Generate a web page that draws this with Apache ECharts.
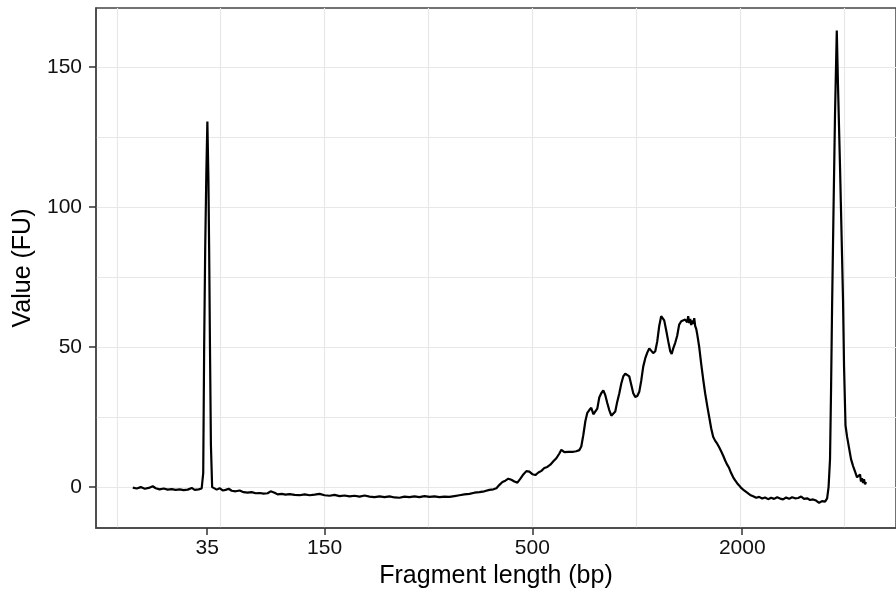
<!DOCTYPE html>
<html>
<head>
<meta charset="utf-8">
<script src="https://cdn.jsdelivr.net/npm/echarts@6/dist/echarts.min.js"></script>
<style>html,body{margin:0;padding:0;background:#fff}#c{width:896px;height:594px}</style>
</head>
<body>
<div id="c"></div>
<script>
// x: migration position (arbitrary run units), y: fluorescence (FU)
const xPos = [
41.54,41.92,42.31,42.69,43.08,43.46,43.75,44.13,44.52,44.90,45.29,45.67,46.06,46.44,46.83,47.21,47.50,47.88,48.17,
48.32,48.41,48.51,48.62,48.72,48.82,48.89,48.97,49.06,49.18,49.33,
49.62,49.90,50.19,50.48,50.77,51.06,51.44,51.83,52.21,52.60,52.98,53.37,53.75,54.13,54.52,54.81,55.00,55.19,55.48,55.87,56.25,56.63,
57.12,57.60,58.08,58.56,59.04,59.52,60.00,60.48,60.96,61.44,61.92,62.40,62.88,63.37,63.85,64.33,64.81,65.29,65.77,66.25,66.73,67.21,
67.69,68.17,68.65,69.13,69.62,70.10,70.58,71.06,71.54,72.02,72.50,72.98,73.46,73.94,74.42,74.90,75.38,75.87,76.25,76.54,
76.83,77.12,77.40,77.69,77.98,78.27,78.56,78.85,79.13,79.42,79.71,80.00,80.29,80.58,80.87,81.15,81.44,81.73,82.02,82.31,82.60,82.79,
83.08,83.27,83.46,83.65,83.94,84.23,84.52,84.71,84.90,85.10,85.29,85.48,85.67,85.87,86.06,86.25,86.44,86.63,86.83,87.02,87.21,87.40,
87.60,87.79,87.98,88.17,88.37,88.56,88.75,88.94,89.13,89.33,89.52,89.71,89.90,90.10,90.29,90.48,90.67,90.87,91.06,91.25,91.44,91.63,
91.83,92.02,92.21,92.40,92.55,92.69,92.88,93.08,93.27,93.41,93.56,93.75,93.94,94.13,94.33,94.52,94.71,94.90,95.00,95.10,95.19,95.29,
95.38,95.48,95.58,95.67,95.77,95.87,96.06,96.25,96.44,96.63,96.83,97.02,97.21,97.40,97.60,97.79,97.98,98.17,98.37,98.56,98.75,98.94,
99.13,99.33,99.52,99.71,99.90,100.10,100.38,100.67,100.96,101.25,101.54,101.83,102.12,102.40,102.69,102.98,103.27,103.56,103.85,104.13,
104.42,104.71,105.00,105.29,105.58,105.87,106.15,106.44,106.73,107.02,107.31,107.60,107.88,108.17,108.37,108.51,108.65,108.75,108.85,
108.99,109.13,109.30,109.42,109.62,109.81,109.90,110.00,110.14,110.29,110.48,110.67,110.87,111.06,111.25,111.44,111.54,111.63,111.73,
111.83,111.92,112.02,112.12
];
const fu = [
-0.2,-0.5,0.0,-0.6,-0.3,0.3,-0.4,-0.8,-0.5,-0.9,-0.7,-1.0,-0.8,-1.1,-0.9,-0.3,-1.0,-0.8,-0.5,
5,50,85,112,130.5,110,85,50,15,0,-0.6,
-0.9,-0.4,-1.2,-1.0,-0.6,-1.3,-1.5,-1.2,-1.8,-2.0,-1.8,-2.2,-2.1,-2.3,-2.2,-1.5,-1.0,-2.0,-2.6,-2.4,-2.7,-2.5,
-2.8,-2.9,-2.6,-2.9,-2.7,-2.4,-2.9,-3.1,-2.8,-3.2,-3.0,-3.3,-3.1,-3.4,-3.0,-3.4,-3.6,-3.3,-3.6,-3.3,-3.7,-3.8,
-3.4,-3.6,-3.3,-3.6,-3.2,-3.5,-3.3,-3.6,-3.4,-3.5,-3.2,-2.9,-2.6,-2.4,-2.0,-1.8,-1.5,-1.0,-0.8,-0.4,
0.8,1.8,2.3,3.0,2.6,2.0,1.6,3.0,4.5,5.7,5.5,4.6,4.3,5.2,5.8,6.8,7.2,8.0,9.2,10.3,12.0,13.3,
12.5,11.8,12.6,12.0,12.6,12.8,13.2,14.5,18.5,23.5,26.5,27.5,28.3,26.0,25.6,28.0,32.0,33.5,34.5,32.8,30.0,27.5,
25.5,24.8,27.0,30.5,33.5,37.0,39.5,40.5,40.6,39.5,36.5,33.5,32.2,32.5,34.0,38.0,43.0,46.0,48.0,49.5,49.2,47.8,
48.5,52.0,57.5,61.0,61.4,59.5,56.0,52.0,48.5,47.5,49.5,51.5,54.0,58.0,59.2,59.0,59.8,58.8,61.0,58.5,60.0,57.8,
59.5,58.2,60.3,57.5,56.5,54.5,50.0,44.0,38.5,33.5,29.0,25.0,21.0,18.0,16.5,15.5,14.2,12.8,11.2,9.5,8.0,6.8,
5.0,3.5,2.4,1.4,0.6,-0.3,-1.2,-2.0,-2.8,-3.3,-3.8,-3.5,-4.1,-3.7,-4.3,-3.8,-4.2,-3.6,-4.1,-4.4,
-3.7,-4.2,-3.6,-4.0,-3.9,-3.4,-4.2,-4.0,-4.6,-4.4,-4.8,-5.6,-5.0,-5.2,-4.0,0,10,35,65,
100,133,163,143,113,82,67,43,22,18,14,10,7.5,5.5,3.5,2.8,4.5,2.0,3.2,
1.5,2.8,1.0,1.8
];
const gridX = [40,50,60,70,80,90,100,110];
const tickX = [48.7,60,80,100.2];
const tickXLabels = ['35','150','500','2000'];
const gridY = [0,25,50,75,100,125,150];
const tickY = [0,50,100,150];

const data = xPos.map((x,i)=>[x,fu[i]]);
const FONT = '"Liberation Sans", Arial, Helvetica, sans-serif';
const chart = echarts.init(document.getElementById('c'), null, {renderer:'canvas'});
chart.setOption({
  animation:false,
  textStyle:{fontFamily:FONT},
  grid:{left:96,right:-1,top:8,bottom:66,show:true,borderColor:'#444',borderWidth:1.5,backgroundColor:'#fff',containLabel:false},
  xAxis:[
    {type:'value',min:38,max:115,position:'bottom',
     axisLine:{show:false},axisTick:{show:false,customValues:gridX},axisLabel:{show:false,customValues:gridX},
     splitLine:{show:true,lineStyle:{color:'#e8e8e8',width:1.2}}},
    {type:'value',min:38,max:115,position:'bottom',
     axisLine:{show:true,onZero:false,lineStyle:{color:'#444',width:1.5}},
     axisTick:{show:true,customValues:tickX,length:7,lineStyle:{color:'#333',width:1.5}},
     axisLabel:{show:true,customValues:tickX,margin:10,fontSize:21,color:'#111',fontFamily:FONT,
       formatter:function(v){const i=tickX.indexOf(v);return i>=0?tickXLabels[i]:'';}},
     splitLine:{show:false},
     name:'Fragment length (bp)',nameLocation:'middle',nameGap:36,
     nameTextStyle:{fontSize:25,color:'#000',fontFamily:FONT}}
  ],
  yAxis:[
    {type:'value',min:-14.6,max:171,position:'left',
     axisLine:{show:false},axisTick:{show:false,customValues:gridY},axisLabel:{show:false,customValues:gridY},
     splitLine:{show:true,lineStyle:{color:'#e8e8e8',width:1.2}}},
    {type:'value',min:-14.6,max:171,position:'left',
     axisLine:{show:true,onZero:false,lineStyle:{color:'#444',width:1.5}},
     axisTick:{show:true,customValues:tickY,length:7,lineStyle:{color:'#333',width:1.5}},
     axisLabel:{show:true,customValues:tickY,margin:14,fontSize:21,color:'#111',fontFamily:FONT},
     splitLine:{show:false},
     name:'Value (FU)',nameLocation:'middle',nameGap:57,
     nameTextStyle:{fontSize:25,color:'#000',fontFamily:FONT}}
  ],
  series:[{
    type:'line',xAxisIndex:0,yAxisIndex:0,data:data,showSymbol:false,smooth:false,
    lineStyle:{color:'#000',width:2.2},z:5,silent:true,clip:true
  }]
});
</script>
</body>
</html>
